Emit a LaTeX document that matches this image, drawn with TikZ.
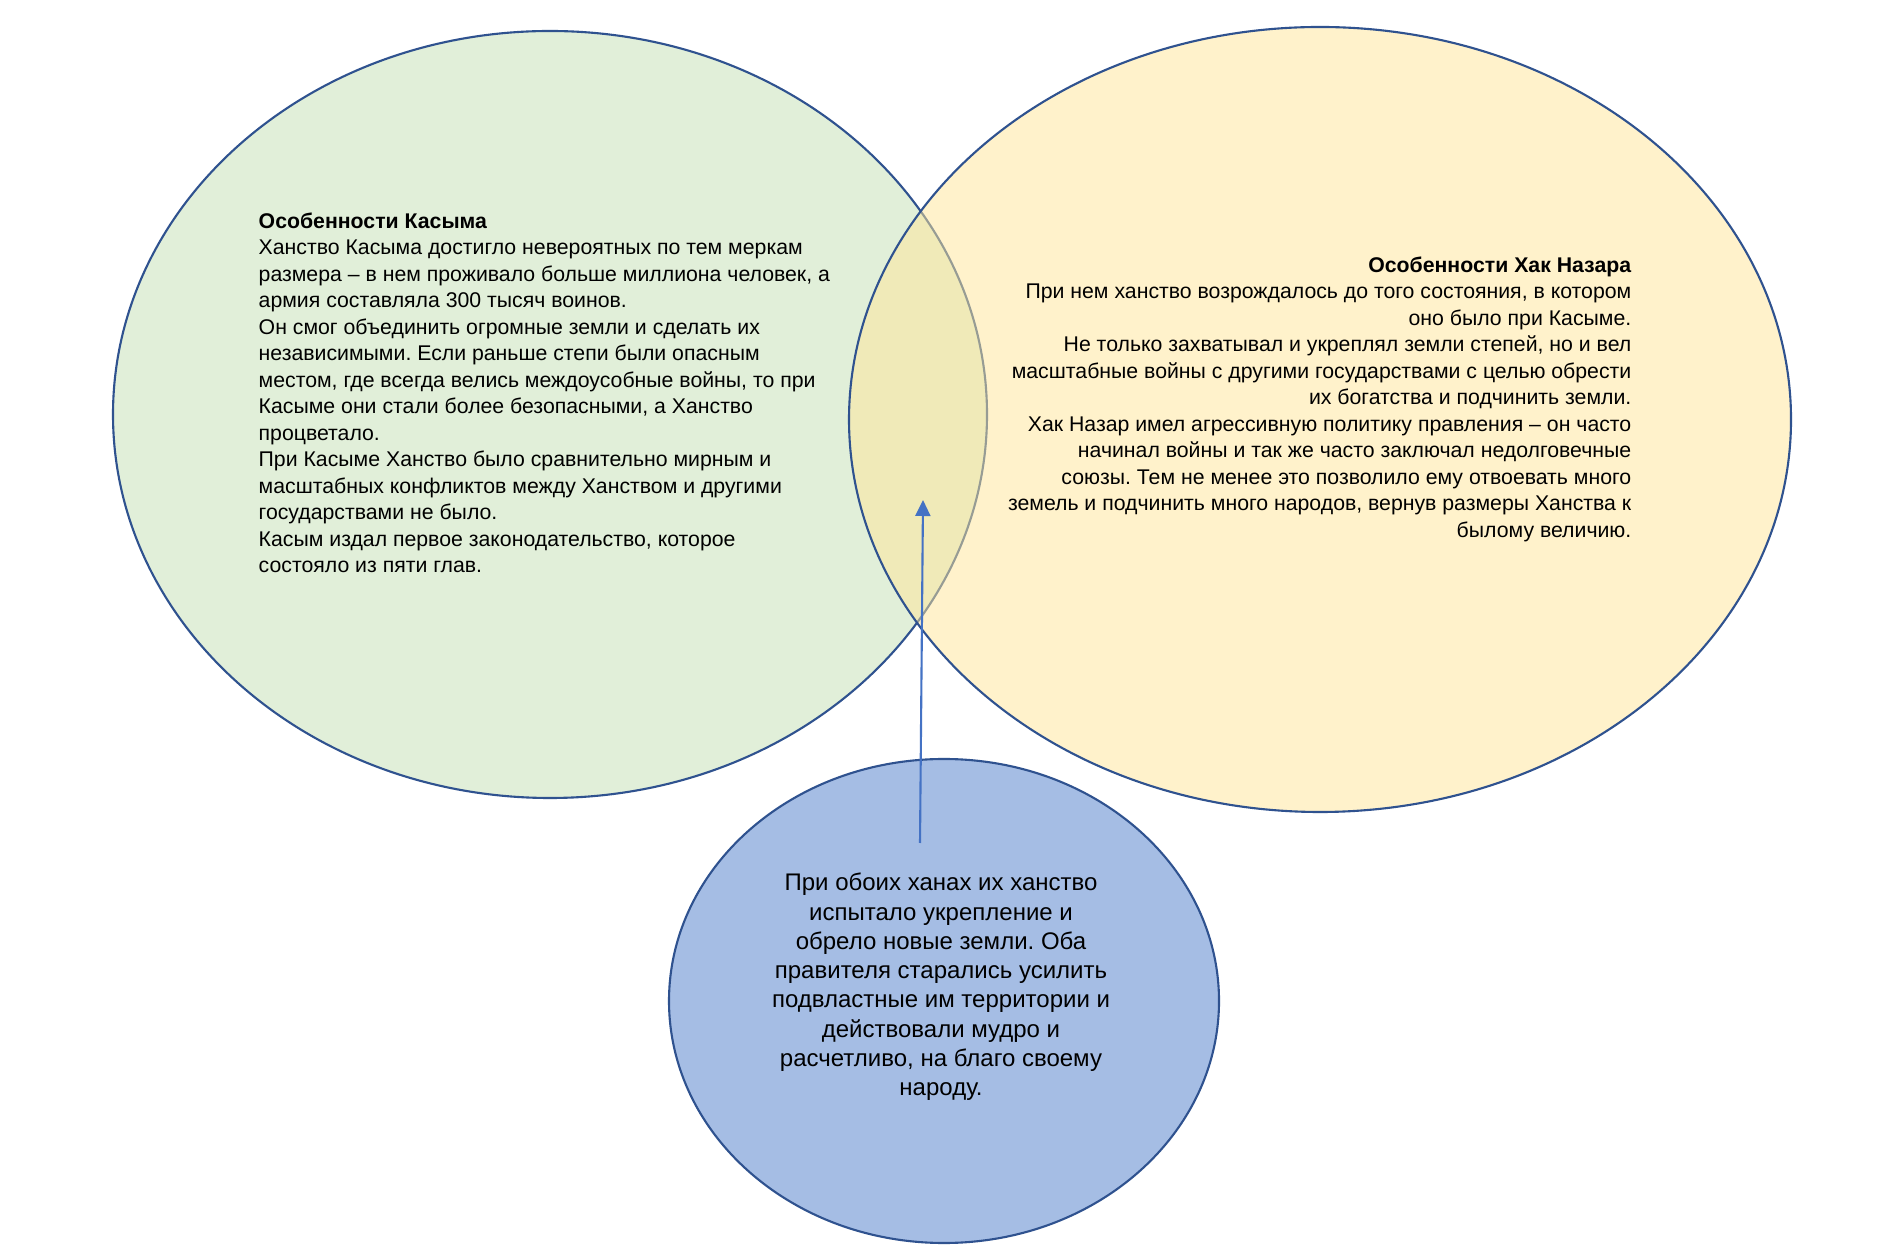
\documentclass[tikz,border=0pt]{standalone}
\usepackage{fontspec}
\setmainfont{Liberation Sans}
\usepackage{tikz}
\usetikzlibrary{shapes.geometric, arrows.meta, positioning}
\definecolor{venn-green}{HTML}{C5E0B4}
\definecolor{venn-yellow}{HTML}{FFE699}
\definecolor{venn-blue}{HTML}{A5BDE4}
\definecolor{venn-line}{HTML}{2F528F}
\definecolor{venn-arrow}{HTML}{4472C4}
\frenchspacing

\begin{document}
\begin{tikzpicture}[
    circ/.style={ellipse, draw=venn-line, line width=0.6pt, inner sep=0pt},
    greencirc/.style={circ, fill=venn-green, fill opacity=0.5, draw opacity=1},
    yellowcirc/.style={circ, fill=venn-yellow, fill opacity=0.5, draw opacity=1},
    bluecirc/.style={circ, fill=venn-blue},
    sidetext/.style={inner sep=0pt, font=\fontsize{6.05}{7.54}\selectfont},
    midtext/.style={inner sep=0pt, align=center, font=\fontsize{6.83}{8.34}\selectfont},
    arrow/.style={-{Triangle[length=1.6mm, width=1.5mm]}, draw=venn-arrow, fill=venn-arrow, line width=0.6pt}
]
\fill[white] (0,0) rectangle (18.83,12.53);
\useasboundingbox (0,0) rectangle (18.83,12.53);

% Ellipses
\node[greencirc, minimum width=8.74cm, minimum height=7.67cm] (kasym) at (5.50,8.385) {};
\node[yellowcirc, minimum width=9.42cm, minimum height=7.85cm] (nazar) at (13.20,8.335) {};
\node[bluecirc, minimum width=5.50cm, minimum height=4.84cm] (common) at (9.44,2.52) {};

% Texts
\node[sidetext, align=left, anchor=west] (kasymtext) at (2.58,8.60) {%
\textbf{Особенности Касыма}\\
Ханство Касыма достигло невероятных по тем меркам\\
размера – в нем проживало больше миллиона человек, а\\
армия составляла 300 тысяч воинов.\\
Он смог объединить огромные земли и сделать их\\
независимыми. Если раньше степи были опасным\\
местом, где всегда велись междоусобные войны, то при\\
Касыме они стали более безопасными, а Ханство\\
процветало.\\
При Касыме Ханство было сравнительно мирным и\\
масштабных конфликтов между Ханством и другими\\
государствами не было.\\
Касым издал первое законодательство, которое\\
состояло из пяти глав.};

\node[sidetext, align=right, anchor=east] (nazartext) at (16.32,8.54) {%
\textbf{Особенности Хак Назара}\\
При нем ханство возрождалось до того состояния, в котором\\
оно было при Касыме.\\
Не только захватывал и укреплял земли степей, но и вел\\
масштабные войны с другими государствами с целью обрести\\
их богатства и подчинить земли.\\
Хак Назар имел агрессивную политику правления – он часто\\
начинал войны и так же часто заключал недолговечные\\
союзы. Тем не менее это позволило ему отвоевать много\\
земель и подчинить много народов, вернув размеры Ханства к\\
былому величию.};

\node[midtext] (commontext) at (9.41,2.66) {%
При обоих ханах их ханство\\
испытало укрепление и\\
обрело новые земли. Оба\\
правителя старались усилить\\
подвластные им территории и\\
действовали мудро и\\
расчетливо, на благо своему\\
народу.};

% Arrow
\coordinate (from) at (9.20,4.10);
\coordinate (to) at (9.23,7.53);
\draw[arrow] (from) -- (to);

\end{tikzpicture}
\end{document}
